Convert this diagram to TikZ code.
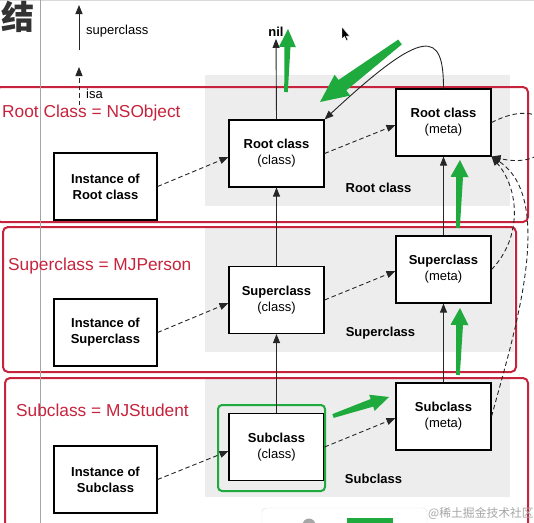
\documentclass[tikz,border=0pt]{standalone}
\usepackage{fontspec}
\setmainfont{Liberation Sans}
\newfontfamily\cjk{Noto Sans CJK SC}
\usetikzlibrary{arrows.meta,calc}
\definecolor{redline}{RGB}{200,35,60}
\definecolor{greenarr}{RGB}{30,170,60}
\definecolor{band}{RGB}{237,237,237}
\definecolor{vline}{RGB}{165,165,165}
\newcommand\greenarrow[6]{%
  \coordinate (ga-s) at #1;
  \coordinate (ga-t) at #2;
  \coordinate (ga-h) at ($(ga-t)!#5!(ga-s)$);
  \fill[greenarr] ($(ga-s)!#3!90:(ga-t)$) -- ($(ga-h)!#4!90:(ga-t)$) -- ($(ga-h)!#6!90:(ga-t)$) -- (ga-t)
     -- ($(ga-h)!#6!-90:(ga-t)$) -- ($(ga-h)!#4!-90:(ga-t)$) -- ($(ga-s)!#3!-90:(ga-t)$) -- cycle;
}
\begin{document}
\begin{tikzpicture}[x=1pt,y=-1pt,
  box/.style={draw=black, line width=1.1pt, fill=white, minimum width=95pt, minimum height=67pt,
    align=center, font=\fontsize{13}{16}\selectfont, inner sep=0pt},
  inst/.style={box, minimum width=103pt, font=\bfseries\fontsize{13}{16}\selectfont},
  arrowtip/.style={-{Triangle[length=9pt,width=7pt]}},
  supline/.style={draw=black!85, line width=0.9pt, arrowtip},
  isaline/.style={draw=black!85, line width=0.9pt, dash pattern=on 4.5pt off 3pt, arrowtip},
  redbox/.style={draw=redline, line width=2pt, rounded corners=5pt},
  redlabel/.style={text=redline, font=\fontsize{17.3}{20}\selectfont, anchor=base west, inner sep=0pt},
  bandlabel/.style={font=\bfseries\fontsize{13}{16}\selectfont, inner sep=0pt},
  plainlabel/.style={font=\fontsize{13}{16}\selectfont, anchor=west, inner sep=0pt},
]
\useasboundingbox (0,0) rectangle (534,522);
\clip (0,0) rectangle (534,522);
\fill[white] (0,0) rectangle (534,522);
\draw[black!15, line width=1.5pt] (0,0.5) -- (534,0.5);

% gray bands
\fill[band] (205,75) rectangle (510,206);
\fill[band] (205,228) rectangle (514,352);
\fill[band] (205,379) rectangle (510,497);

% red group frames
\draw[redbox] (-4,87) rectangle (528,222);
\draw[redbox] (3,227) rectangle (516,372);
\draw[redbox] (5,378) rectangle (528,540);

% vertical gray line and heading glyph
\draw[vline, line width=1.8pt] (40.5,-2) -- (40.5,524);
\node[font=\cjk\bfseries\fontsize{33}{33}\selectfont, text=black!80, inner sep=0pt] (hd) at (18,17) {结};

% legend
\coordinate (supA) at (79,50);
\coordinate (supB) at (79,5);
\draw[supline] (supA) -- (supB);
\node[plainlabel] (supl) at (86,31) {superclass};
\coordinate (isaA) at (79,105);
\coordinate (isaB) at (79,67);
\draw[isaline] (isaA) -- (isaB);
\node[plainlabel] (isal) at (86,94) {isa};

% red labels
\node[redlabel] (lroot) at (2,117) {Root Class = NSObject};
\node[redlabel] (lsup) at (8,270) {Superclass = MJPerson};
\node[redlabel] (lsub) at (16,416) {Subclass = MJStudent};

% band labels
\node[bandlabel] (blr) at (378.5,188) {Root class};
\node[bandlabel] (bls) at (380.5,333) {Superclass};
\node[bandlabel] (blsub) at (373.5,479) {Subclass};

% boxes
\node[inst] (ir) at (105.5,186.5) {Instance of\\Root class};
\node[inst] (is) at (105.5,332.5) {Instance of\\Superclass};
\node[inst] (isub) at (105.5,479.5) {Instance of\\Subclass};
\node[box] (rc) at (276.5,153.5) {\textbf{Root class}\\(class)};
\node[box] (sc) at (276.5,300) {\textbf{Superclass}\\(class)};
\node[box] (subc) at (276.5,447) {\textbf{Subclass}\\(class)};
\node[box] (rm) at (443.5,122.5) {\textbf{Root class}\\(meta)};
\node[box] (sm) at (443.5,269.5) {\textbf{Superclass}\\(meta)};
\node[box] (subm) at (443.5,416.5) {\textbf{Subclass}\\(meta)};
\draw[greenarr, line width=2pt, rounded corners=4pt] (218,405) rectangle (325,491);
\node[font=\bfseries\fontsize{13}{16}\selectfont, inner sep=2pt] (nil) at (276,32) {nil};

% superclass links
\draw[supline] (rc.north) -- (nil.south);
\draw[supline] (sc.north) -- (rc.south);
\draw[supline] (subc.north) -- (sc.south);
\draw[supline] (sm.north) -- (rm.south);
\draw[supline] (subm.north) -- (sm.south);
\draw[supline] (rm.north) .. controls +(0,-58) and (425,26) .. (rc.north east);

% isa links
\draw[isaline] (ir.east) -- ([yshift=-3.5pt]rc.west);
\draw[isaline] (is.east) -- ([yshift=-3pt]sc.west);
\draw[isaline] (isub.east) -- ([yshift=-4pt]subc.west);
\draw[isaline] (rc.east) -- ([yshift=-2.5pt]rm.west);
\draw[isaline] (sc.east) -- ([yshift=-1.5pt]sm.west);
\draw[isaline] (subc.east) -- ([yshift=-1.5pt]subm.west);
\draw[isaline] (rm.east) .. controls (565,85) and (570,175) .. (rm.south east);
\draw[isaline] (sm.east) .. controls (522,238) and (520,190) .. (rm.south east);
\draw[isaline] (subm.east) .. controls (512,340) and (558,200) .. (rm.south east);

% green highlight arrows
\greenarrow{(286,92)}{(288,29)}{1.8pt}{3pt}{18pt}{8.5pt}
\greenarrow{(400,42)}{(320,102)}{3pt}{6.5pt}{28pt}{13pt}
\greenarrow{(458,228)}{(460,160)}{1.8pt}{3.5pt}{17pt}{9pt}
\greenarrow{(458,375)}{(460,308)}{1.8pt}{3.5pt}{17pt}{9pt}
\greenarrow{(333,416)}{(389,397)}{2pt}{4pt}{18pt}{8.5pt}

% mouse cursor
\fill[black, draw=white, line width=0.4pt] (342,27) -- (342,39) -- (344.5,36.5) -- (346.5,40.5) -- (348,39.8) -- (346,36) -- (349.5,36) -- cycle;

% bottom screen artefacts
\draw[black!12, fill=white, rounded corners=4pt] (262,508) rectangle (427,530);
\fill[greenarr] (347,518) rectangle (393,526);
\fill[black!35] (309,525) circle (6.5pt);
\node[font=\cjk\fontsize{11.8}{12}\selectfont, text=black!35, anchor=west, inner sep=0pt] (wm) at (428,513) {@稀土掘金技术社区};
\end{tikzpicture}
\end{document}
